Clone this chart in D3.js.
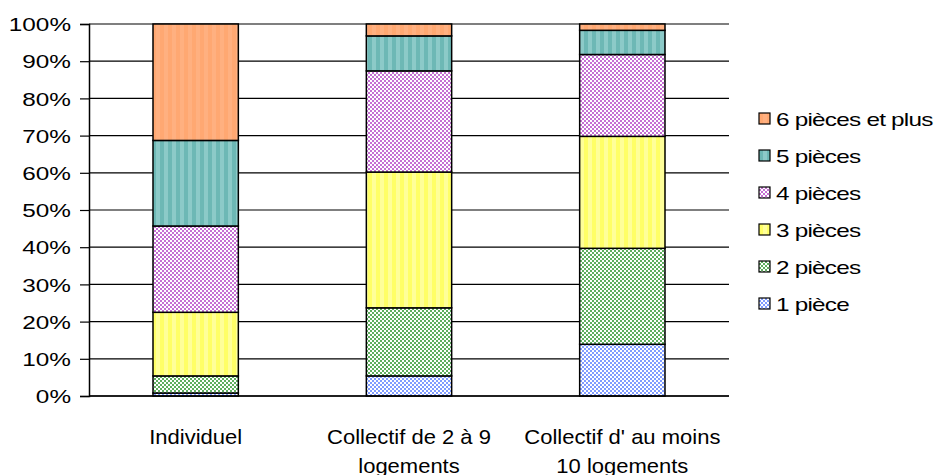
<!DOCTYPE html>
<html>
<head>
<meta charset="utf-8">
<script src="https://cdn.jsdelivr.net/npm/d3@7"></script>
<style>
body { margin: 0; background: #fff; }
text { font-family: "Liberation Sans", Arial, sans-serif; fill: #000; }
</style>
</head>
<body>
<div id="main"></div>
<script>
// categories and values (percent)
var categories = ['Individuel', 'Collectif de 2 à 9|logements', "Collectif d' au moins|10 logements"];
var series = ['1 pièce', '2 pièces', '3 pièces', '4 pièces', '5 pièces', '6 pièces et plus'];
var p1 = [0.8, 5.4, 13.9];
var p2 = [4.6, 18.3, 25.8];
var p3 = [17.1, 36.5, 30.1];
var p4 = [23.2, 27.2, 22.0];
var p5 = [23.0, 9.4, 6.5];
var p6 = [31.3, 3.2, 1.7];
var yTicks = [0, 10, 20, 30, 40, 50, 60, 70, 80, 90, 100];

var svgWidth = 938, svgHeight = 475;
// note: "top" is taken by window.top, so plot edges get their own names
var plotLeft = 89, plotRight = 729, plotTop = 24, plotBottom = 396;

var svg = d3.select('#main').append('svg')
			.attr('width', svgWidth)
			.attr('height', svgHeight);

// fill patterns, one per series
var defs = svg.append('defs');
function checker(id, col){
	var p = defs.append('pattern').attr('id', id).attr('patternUnits', 'userSpaceOnUse')
		.attr('width', 4).attr('height', 4);
	p.append('rect').attr('width', 4).attr('height', 4).attr('fill', '#fff');
	p.append('rect').attr('width', 2).attr('height', 2).attr('fill', col);
	p.append('rect').attr('x', 2).attr('y', 2).attr('width', 2).attr('height', 2).attr('fill', col);
}
function stripes(id, c1, c2){
	var p = defs.append('pattern').attr('id', id).attr('patternUnits', 'userSpaceOnUse')
		.attr('width', 8).attr('height', 8);
	p.append('rect').attr('width', 8).attr('height', 8).attr('fill', c1);
	p.append('rect').attr('x', 4).attr('width', 4).attr('height', 8).attr('fill', c2);
}
checker('f1', '#809cff');
checker('f2', '#5fae5f');
stripes('f3', '#ffff66', '#ffff99');
checker('f4', '#c570d3');
stripes('f5', '#6db8b5', '#8ccac8');
stripes('f6', '#ffa872', '#ffb080');
var fills = ['url(#f1)', 'url(#f2)', 'url(#f3)', 'url(#f4)', 'url(#f5)', 'url(#f6)'];

var rows = categories.map(function(c, i){
	return {cat: c, s0: p1[i], s1: p2[i], s2: p3[i], s3: p4[i], s4: p5[i], s5: p6[i]};
});
var keys = ['s0', 's1', 's2', 's3', 's4', 's5'];
var stacked = d3.stack().keys(keys)(rows);

var x = d3.scaleBand().domain(categories).range([plotLeft, plotRight]).paddingInner(0.6).paddingOuter(0.3);
var y = d3.scaleLinear().domain([0, 100]).range([plotBottom, plotTop]);

// gridlines
svg.append('g').selectAll('line').data(yTicks).enter().append('line')
	.attr('x1', plotLeft).attr('x2', plotRight)
	.attr('y1', function(d){ return y(d); }).attr('y2', function(d){ return y(d); })
	.attr('stroke', '#000').attr('stroke-width', 1.2);

// y axis
var yAxis = svg.append('g').attr('transform', 'translate(' + plotLeft + ',0)')
	.call(d3.axisLeft(y).tickValues(yTicks).tickSize(9).tickPadding(0).tickFormat(function(d){ return d + '%'; }));
yAxis.select('.domain').attr('stroke', '#000').attr('stroke-width', 1.5);
yAxis.selectAll('.tick line').attr('stroke', '#000').attr('stroke-width', 1.2);
yAxis.selectAll('.tick text').remove();
yAxis.selectAll('.tick').append('text')
	.attr('transform', 'translate(-18,0) scale(1.28,1)')
	.attr('dy', '0.35em')
	.attr('text-anchor', 'end')
	.style('font-size', '19px')
	.text(function(d){ return d + '%'; });

// bars
svg.append('g').selectAll('g').data(stacked).enter().append('g')
	.attr('fill', function(d, i){ return fills[i]; })
	.selectAll('rect').data(function(d){ return d; }).enter().append('rect')
	.attr('x', function(d){ return x(d.data.cat); })
	.attr('width', x.bandwidth())
	.attr('y', function(d){ return y(d[1]); })
	.attr('height', function(d){ return y(d[0]) - y(d[1]); })
	.attr('stroke', '#000').attr('stroke-width', 1.5);

// bottom axis line
svg.append('line').attr('x1', plotLeft).attr('x2', plotRight).attr('y1', plotBottom).attr('y2', plotBottom)
	.attr('stroke', '#000').attr('stroke-width', 1.5);

// category labels (second line runs off the bottom like the original)
svg.append('g').selectAll('g').data(categories).enter().append('g')
	.attr('transform', function(d){ return 'translate(' + (x(d) + x.bandwidth() / 2) + ',0)'; })
	.each(function(d){
		var lines = d.split('|');
		var g = d3.select(this);
		lines.forEach(function(l, k){
			g.append('text')
				.attr('transform', 'translate(0,' + (444 + k * 29) + ') scale(1.1,1)')
				.attr('text-anchor', 'middle')
				.style('font-size', '20px')
				.text(l);
		});
	});

// legend, top entry is last series
var legend = svg.append('g').selectAll('g').data(series.slice().reverse()).enter().append('g')
	.attr('transform', function(d, i){ return 'translate(759,' + (119 + i * 37) + ')'; });
legend.append('rect')
	.attr('x', 0).attr('y', -6).attr('width', 11).attr('height', 11)
	.attr('fill', function(d, i){ return fills[5 - i]; })
	.attr('stroke', '#000').attr('stroke-width', 1.2);
legend.append('text')
	.attr('transform', 'translate(17,0) scale(1.28,1)')
	.attr('dy', '0.35em')
	.style('font-size', '19px')
	.style('letter-spacing', '-0.6px')
	.text(function(d){ return d; });
</script>
</body>
</html>
